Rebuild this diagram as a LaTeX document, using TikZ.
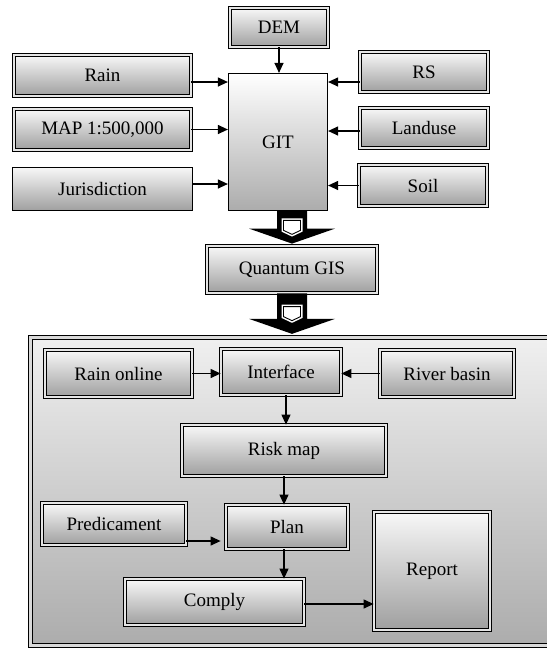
\documentclass[tikz,border=0pt]{standalone}
\usepackage{fontspec}
\setmainfont{Liberation Serif}
\usetikzlibrary{arrows.meta,calc,positioning}
\tikzset{
    box/.style={draw, line width=1.2pt, double=gray!20, double distance=2pt,
        top color=gray!6, bottom color=gray!75, inner sep=0pt,
        font=\fontsize{19}{22}\selectfont},
    plainbox/.style={box, double=none, line width=1.2pt},
    panelbox/.style={draw, line width=1.3pt, double=gray!30, double distance=2.6pt,
        top color=gray!12, bottom color=gray!65},
    flow/.style={-{Triangle[length=10pt, width=9pt]}, line width=1.2pt},
    shield/.style={draw=black, fill=white, line width=0.9pt,
        preaction={draw=white, line width=4pt}}
}
% thick block arrow with a shield inside
\newcommand{\bigflow}[2]{%
    \fill (#1) ++(-15,0) -- ($(#2)+(-15,-15)$) -- ($(#2)+(-43,-15)$) -- (#2)
        -- ($(#2)+(43,-15)$) -- ($(#2)+(15,-15)$) -- ($(#1)+(15,0)$) -- cycle;
    \coordinate (mid) at ($(#1)!0.5!(#2)$);
    \draw[shield] ($(mid)+(-8.5,-7)$) -- ($(mid)+(8.5,-7)$) -- ($(mid)+(8.5,3)$)
        -- ($(mid)+(0,7)$) -- ($(mid)+(-8.5,3)$) -- cycle;
}

\begin{document}
\begin{tikzpicture}[x=1pt, y=-1pt]
    \useasboundingbox (0,0) rectangle (547,649);
    \clip (0,0) rectangle (547,649);

    % lower panel
    \node[panelbox, minimum width=522, minimum height=308] (panel) at (291.5,491.5) {};

    % inputs of GIT
    \node[plainbox, top color=white, bottom color=gray!65, minimum width=99, minimum height=137] (git) at (278,142) {GIT};
    \node[box, minimum width=97.6, minimum height=38.6] (dem) at (279,27.5) {DEM};
    \node[box, minimum width=176.6, minimum height=40.6] (rain) at (102.5,75.5) {Rain};
    \node[box, minimum width=176.6, minimum height=40.6] (map) at (102.5,129.5) {MAP 1:500,000};
    \node[plainbox, minimum width=180, minimum height=43] (juris) at (102.5,189) {Jurisdiction};
    \node[box, minimum width=127.6, minimum height=39.6] (rs) at (424,72) {RS};
    \node[box, minimum width=127.6, minimum height=39.6] (landuse) at (424,128) {Landuse};
    \node[box, minimum width=127.6, minimum height=40.6] (soil) at (423,185.5) {Soil};
    \node[box, minimum width=169.6, minimum height=46.6] (qgis) at (292,269.5) {Quantum GIS};

    % inside the panel
    \node[box, minimum width=146.6, minimum height=46.6] (rainon) at (118.5,373.5) {Rain online};
    \node[box, minimum width=119.6, minimum height=45.6] (iface) at (281,372) {Interface};
    \node[box, minimum width=133.6, minimum height=46.6] (river) at (447,373.5) {River basin};
    \node[box, minimum width=203.6, minimum height=50.6] (risk) at (284,450.5) {Risk map};
    \node[box, minimum width=143.6, minimum height=41.6] (pred) at (114,524) {Predicament};
    \node[box, minimum width=121.6, minimum height=43.6] (plan) at (287,527) {Plan};
    \node[box, minimum width=115.6, minimum height=117.6] (report) at (432,571) {Report};
    \node[box, minimum width=178.6, minimum height=45.6] (comply) at (214.5,602) {Comply};

    % arrows into GIT
    \draw[flow] (dem.south) -- (dem.south |- git.north);
    \foreach \src/\dy in {rain/-6.5, map/0, juris/5}
        \draw[flow] ([yshift=\dy pt]\src.east) -- ([yshift=\dy pt]\src.east -| git.west);
    \foreach \src/\dy in {rs/-10, landuse/-3, soil/0}
        \draw[flow] ([yshift=\dy pt]\src.west) -- ([yshift=\dy pt]\src.west -| git.east);

    % block arrows
    \coordinate (tipa) at ([yshift=2pt]qgis.north);
    \coordinate (tipb) at ([yshift=3pt]qgis.south |- panel.north);
    \bigflow{qgis.north |- git.south}{tipa}
    \bigflow{qgis.south}{tipb}

    % arrows in the panel
    \draw[flow] (rainon.east) -- (rainon.east -| iface.west);
    \draw[flow] (river.west) -- (river.west -| iface.east);
    \draw[flow] ([xshift=5pt]iface.south) -- ([xshift=5pt]iface.south |- risk.north);
    \draw[flow] (risk.south) -- (risk.south |- plan.north);
    \draw[flow, shorten >=5pt] ([yshift=-17pt]pred.east) -- ([yshift=-17pt]pred.east -| plan.west);
    \draw[flow] ([xshift=-3pt]plan.south) -- ([xshift=-3pt]plan.south |- comply.north);
    \draw[flow] ([yshift=-2pt]comply.east) -- ([yshift=-2pt]comply.east -| report.west);
\end{tikzpicture}
\end{document}
